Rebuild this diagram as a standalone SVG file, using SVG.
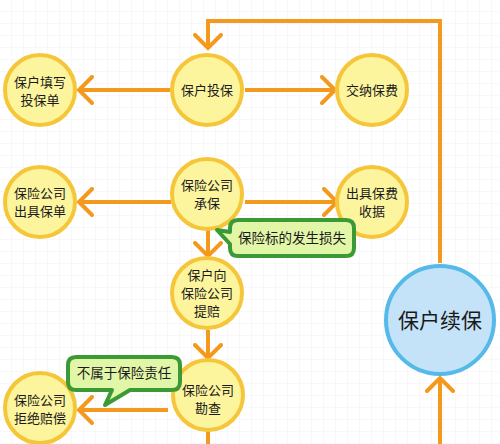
<svg xmlns="http://www.w3.org/2000/svg" width="500" height="444" viewBox="0 0 500 444">
<defs>
<pattern id="grid" width="12" height="12" patternUnits="userSpaceOnUse">
<path d="M12,0 V12 M0,12 H12" fill="none" stroke="#f1f1f1" stroke-width="1"/>
</pattern>
<marker id="arr" markerUnits="userSpaceOnUse" markerWidth="30" markerHeight="30" refX="15" refY="15" orient="auto" viewBox="0 0 30 30">
<path d="M2,2 L15,15 L2,28" fill="none" stroke="#f39a1e" stroke-width="4" stroke-linecap="round" stroke-linejoin="miter"/>
</marker>
<style>
.node circle{fill:#fcf59e;stroke:#f5c63a;stroke-width:4}
.node text{font-family:"Noto Sans CJK SC","Noto Sans",sans-serif;font-size:13px;fill:#1a1a1a;text-anchor:middle}
.conn line,.conn polyline{fill:none;stroke:#f39a1e;stroke-width:4}
.callout path{fill:#e2f6a8;stroke:#3c9a36;stroke-width:4;stroke-linejoin:round}
.callout text{font-family:"Noto Sans CJK SC","Noto Sans",sans-serif;font-size:13.5px;fill:#1a1a1a;text-anchor:middle}
#n10 circle{fill:#c5e3f8;stroke:#55b9ea;stroke-width:4}
#n10 text{font-size:21px}
</style>
</defs>
<rect width="500" height="444" fill="#ffffff"/>
<rect width="500" height="444" fill="url(#grid)"/>

<g id="connectors" class="conn">
<line x1="170" y1="90" x2="79" y2="90" marker-end="url(#arr)"/>
<line x1="245" y1="90" x2="335" y2="90" marker-end="url(#arr)"/>
<line x1="171" y1="202" x2="79" y2="202" marker-end="url(#arr)"/>
<line x1="245" y1="202" x2="337" y2="202" marker-end="url(#arr)"/>
<line x1="208" y1="230" x2="208" y2="256" marker-end="url(#arr)"/>
<line x1="208" y1="330" x2="208" y2="358" marker-end="url(#arr)"/>
<line x1="168" y1="410" x2="79" y2="410" marker-end="url(#arr)"/>
<polyline points="440,263 440,21 208,21 208,48" marker-end="url(#arr)"/>
<line x1="440" y1="444" x2="440" y2="378" marker-end="url(#arr)"/>
<line x1="208" y1="431" x2="208" y2="444"/>
</g>

<g id="n1" class="node"><circle cx="207" cy="90" r="35"/><text x="207" y="95">保户投保</text></g>
<g id="n2" class="node"><circle cx="40" cy="90" r="35"/><text x="40" y="87">保户填写</text><text x="40" y="105">投保单</text></g>
<g id="n3" class="node"><circle cx="372" cy="90" r="35"/><text x="372" y="95">交纳保费</text></g>
<g id="n4" class="node"><circle cx="207" cy="194" r="35"/><text x="207" y="190">保险公司</text><text x="207" y="208">承保</text></g>
<g id="n5" class="node"><circle cx="40" cy="202" r="35"/><text x="40" y="198">保险公司</text><text x="40" y="216">出具保单</text></g>
<g id="n6" class="node"><circle cx="372" cy="202" r="35"/><text x="372" y="198">出具保费</text><text x="372" y="216">收据</text></g>
<g id="n7" class="node"><circle cx="207" cy="293" r="35"/><text x="207" y="280">保户向</text><text x="207" y="298">保险公司</text><text x="207" y="316">提赔</text></g>
<g id="n8" class="node"><circle cx="208" cy="395" r="35"/><text x="208" y="395">保险公司</text><text x="208" y="413">勘查</text></g>
<g id="n9" class="node"><circle cx="40" cy="408" r="35"/><text x="40" y="405">保险公司</text><text x="40" y="423">拒绝赔偿</text></g>
<g id="n10" class="node"><circle cx="440" cy="320" r="54"/><text x="440" y="328">保户续保</text></g>

<g id="c1" class="callout">
<path d="M238,220 H346 Q354,220 354,228 V248 Q354,256 346,256 H238 Q230,256 230,248 V244 L217,230 L230,232 V228 Q230,220 238,220 Z"/>
<text x="292" y="243">保险标的发生损失</text>
</g>
<g id="c2" class="callout">
<path d="M76,357 H172 Q180,357 180,365 V382 Q180,390 172,390 H130 L105,405 L112,390 H76 Q68,390 68,382 V365 Q68,357 76,357 Z"/>
<text x="124" y="378">不属于保险责任</text>
</g>
</svg>
